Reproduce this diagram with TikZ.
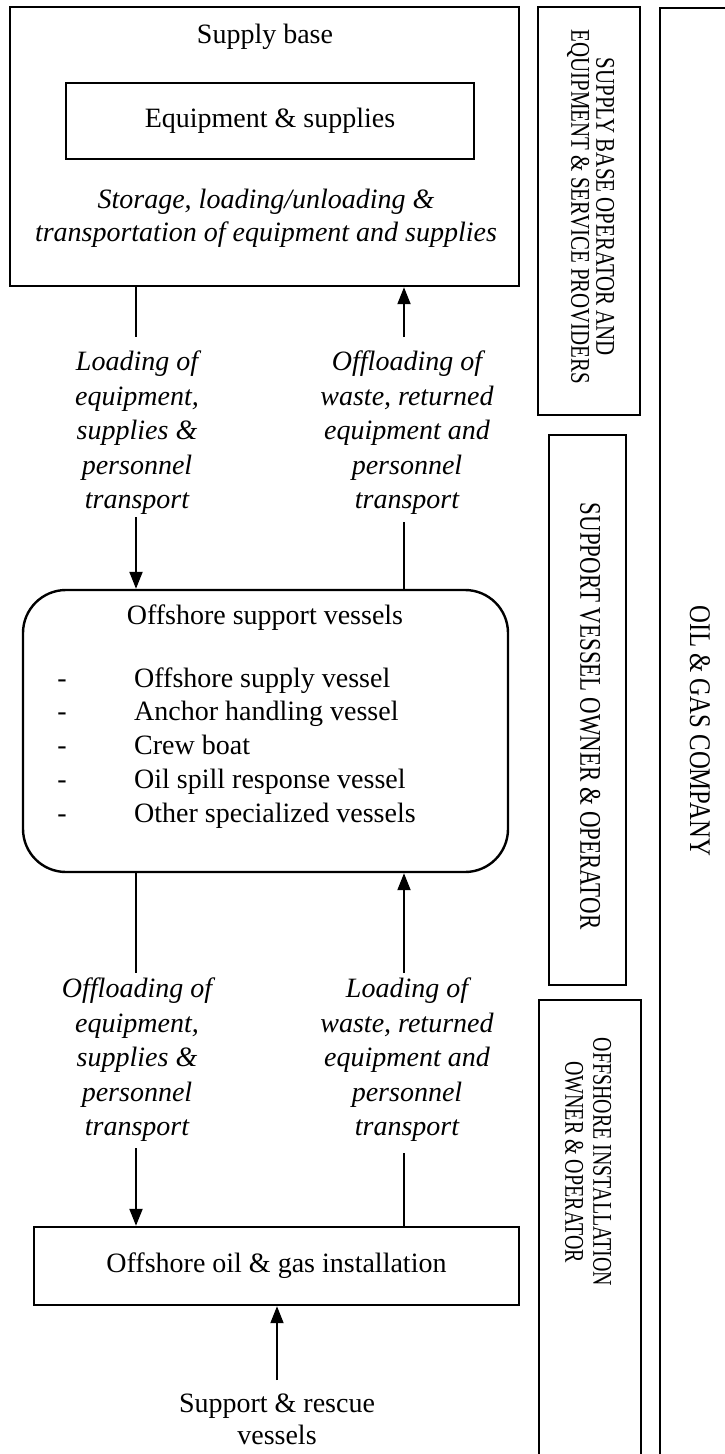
\documentclass[tikz,border=0pt]{standalone}
\usepackage{fontspec}
\setmainfont{Liberation Serif}
% condensed cuts for the vertical side labels
\newfontfamily\narrowA{Liberation Serif}[FakeStretch=0.74]
\newfontfamily\narrowB{Liberation Serif}[FakeStretch=0.765]
\newfontfamily\narrowC{Liberation Serif}[FakeStretch=0.825]
\newfontfamily\narrowD{Liberation Serif}[FakeStretch=0.775]
\usetikzlibrary{arrows.meta}
\begin{document}
\begin{tikzpicture}[x=1pt,y=-1pt,
  box/.style={draw, line width=2.4pt, inner sep=0pt},
  txt/.style={font=\fontsize{28}{33}\selectfont, align=center, inner sep=0pt},
  lbl/.style={font=\fontsize{28}{34.5}\selectfont\itshape, align=center, inner sep=0pt},
  item/.style={font=\fontsize{28}{33}\selectfont, inner sep=0pt, text height=20pt, text depth=6pt},
  flow/.style={line width=2pt},
  arr/.style={flow, -{Triangle[width=13pt,length=17pt]}},
  side/.style={rotate=-90, align=center, inner sep=0pt}]
\useasboundingbox (0,0) rectangle (725,1454);
\clip (0,0) rectangle (725,1454);

% ---------- supply base ----------
\node[box, minimum width=509, minimum height=279] (supply) at (264.5,146.5) {};
\node[txt] (sbtitle) at (265,37) {Supply base};
\node[box, txt, minimum width=408, minimum height=76] (equip) at (270,121) {Equipment \& supplies};
\node[lbl, font=\fontsize{28}{33}\selectfont\itshape] (storage) at (266,218.5)
  {Storage, loading/unloading \&\\transportation of equipment and supplies};

% ---------- upper flow labels ----------
\node[lbl] (loadup) at (137,433) {Loading of\\equipment,\\supplies \&\\personnel\\transport};
\node[lbl] (offup) at (407,433) {Offloading of\\waste, returned\\equipment and\\personnel\\transport};

% ---------- offshore support vessels ----------
\node[box, rounded corners=43pt, minimum width=485, minimum height=282] (osv) at (265.5,731) {};
\node[txt] (osvtitle) at (265,618) {Offshore support vessels};
\foreach \t [count=\i] in {Offshore supply vessel, Anchor handling vessel, Crew boat,
                           Oil spill response vessel, Other specialized vessels} {
  \node[item] (dash\i) at (62,{680+(\i-1)*33.75}) {-};
  \node[item, anchor=west] (vtype\i) at (134,{680+(\i-1)*33.75}) {\t};
}

% ---------- lower flow labels ----------
\node[lbl] (offlow) at (137,1060) {Offloading of\\equipment,\\supplies \&\\personnel\\transport};
\node[lbl] (loadlow) at (407,1060) {Loading of\\waste, returned\\equipment and\\personnel\\transport};

% ---------- installation ----------
\node[box, txt, minimum width=485, minimum height=78] (inst) at (276.5,1266) {Offshore oil \& gas installation};
\node[txt, font=\fontsize{28}{32}\selectfont] (rescue) at (277,1419) {Support \& rescue\\vessels};

% ---------- connector ends ----------
\coordinate (c1) at (136,337);
\coordinate (c2) at (404,337);
\coordinate (c3) at (136,517);
\coordinate (c4) at (404,522);
\coordinate (c5) at (136,973);
\coordinate (c6) at (404,973);
\coordinate (c7) at (136,1148);
\coordinate (c8) at (404,1153);
\coordinate (c9) at (277,1380);

\draw[flow] (supply.south -| c1) -- (c1);
\draw[arr]  (c2) -- (supply.south -| c2);
\draw[arr]  (c3) -- (osv.north -| c3);
\draw[flow] (osv.north -| c4) -- (c4);
\draw[flow] (osv.south -| c5) -- (c5);
\draw[arr]  (c6) -- (osv.south -| c6);
\draw[arr]  (c7) -- (inst.north -| c7);
\draw[flow] (inst.north -| c8) -- (c8);
\draw[arr]  (c9) -- (inst.south -| c9);

% ---------- responsibility columns ----------
\node[box, minimum width=102, minimum height=408] (col1) at (589,211) {};
\node[side, font=\narrowD\fontsize{27}{25}\selectfont] (col1txt) at (590.5,207)
  {SUPPLY BASE OPERATOR AND\\EQUIPMENT \& SERVICE PROVIDERS};

\node[box, minimum width=77, minimum height=550] (col2) at (587.5,710) {};
\node[side, font=\narrowB\fontsize{30}{28}\selectfont] (col2txt) at (590,716)
  {SUPPORT VESSEL OWNER \& OPERATOR};

\node[box, anchor=north west, minimum width=102, minimum height=520] (col3) at (538,999) {};
\node[side, font=\narrowA\fontsize{27}{28}\selectfont] (col3txt) at (588,1162)
  {OFFSHORE INSTALLATION\\OWNER \& OPERATOR};

\node[box, anchor=north west, minimum width=120, minimum height=1500] (company) at (659,7) {};
\node[side, font=\narrowC\fontsize{30}{28}\selectfont] (companytxt) at (700,731)
  {OIL \& GAS COMPANY};
\end{tikzpicture}
\end{document}
